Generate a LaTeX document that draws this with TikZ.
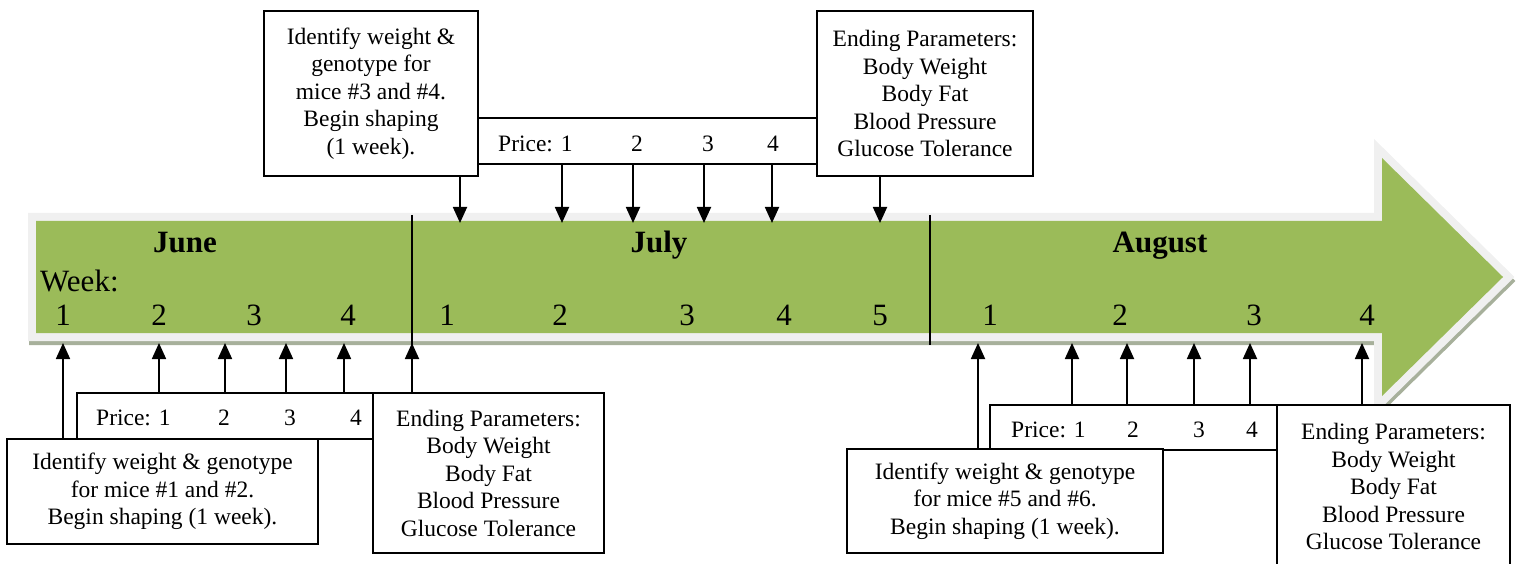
\documentclass[tikz,border=0pt]{standalone}
\usepackage{fontspec}
\setmainfont{Liberation Serif}
\usetikzlibrary{arrows.meta}
\definecolor{bandgreen}{HTML}{9BBB59}
\definecolor{bandedge}{HTML}{F0F0F0}
\definecolor{bandshadow}{HTML}{A7B09B}
\begin{document}
\begin{tikzpicture}[x=1pt,y=-1pt,
  box/.style={draw, line width=1.8pt, fill=white, inner sep=0pt, align=center, font=\fontsize{23.5}{27.5}\selectfont},
  txt/.style={inner sep=0pt, font=\fontsize{23.5}{27.5}\selectfont},
  big/.style={inner sep=0pt, font=\fontsize{31}{36}\selectfont},
  month/.style={inner sep=0pt, font=\fontsize{31}{36}\selectfont\bfseries},
  arr/.style={line width=1.8pt, -{Triangle[width=14pt,length=16pt]}},
  divider/.style={line width=1.6pt}]
\useasboundingbox (0,0) rectangle (1519,564);
\clip (0,0) rectangle (1519,564);
% band arrow
\path[draw=bandshadow, line width=16pt, line join=miter, shift={(1,4)}]
  (36,221) -- (1382,221) -- (1382,158) -- (1503,277) -- (1382,396) -- (1382,333) -- (36,333) -- cycle;
\path[draw=bandedge, line width=16pt, line join=miter]
  (36,221) -- (1382,221) -- (1382,158) -- (1503,277) -- (1382,396) -- (1382,333) -- (36,333) -- cycle;
\path[fill=bandgreen]
  (36,221) -- (1382,221) -- (1382,158) -- (1503,277) -- (1382,396) -- (1382,333) -- (36,333) -- cycle;
% dividers
\coordinate (dv1t) at (412,215); \coordinate (dv1b) at (412,345);
\coordinate (dv2t) at (930,215); \coordinate (dv2b) at (930,345);
\draw[divider] (dv1t) -- (dv1b);
\draw[divider] (dv2t) -- (dv2b);
% month labels
\node[month, anchor=base] (june) at (185,253) {June};
\node[month, anchor=base] (july) at (659,253) {July};
\node[month, anchor=base] (aug) at (1160,253) {August};
\node[big, anchor=base west] (week) at (40,291) {Week:};
% week numbers
\foreach \n/\x/\t in {j1/63/1, j2/159/2, j3/254/3, j4/348/4, l1/447/1, l2/560/2, l3/687/3, l4/784/4, l5/880/5, a1/990/1, a2/1120/2, a3/1254/3, a4/1367/4}
  \node[big, anchor=base] (\n) at (\x,326) {\t};
% top boxes
\node[box, minimum width=339pt, minimum height=46pt] (tprice) at (647.5,141) {};
\node[box, minimum width=214pt, minimum height=165pt] (tid) at (371,93.5)
  {Identify weight \&\\genotype for\\mice \#3 and \#4.\\Begin shaping\\(1 week).};
\node[box, minimum width=216pt, minimum height=165pt] (tend) at (925,93.5)
  {Ending Parameters:\\Body Weight\\Body Fat\\Blood Pressure\\Glucose Tolerance};
\node[txt, anchor=base west] (tp1) at (498,152) {Price: 1};
\node[txt, anchor=base] (tp2) at (637,152) {2};
\node[txt, anchor=base] (tp3) at (708,152) {3};
\node[txt, anchor=base] (tp4) at (773,152) {4};
% bottom left boxes
\node[box, minimum width=296pt, minimum height=46pt] (lprice) at (225,416) {};
\node[box, minimum width=311pt, minimum height=105pt] (lid) at (162.5,491.5)
  {Identify weight \& genotype\\for mice \#1 and \#2.\\Begin shaping (1 week).};
\node[box, minimum width=231pt, minimum height=160pt] (lend) at (488.5,473)
  {Ending Parameters:\\Body Weight\\Body Fat\\Blood Pressure\\Glucose Tolerance};
\node[txt, anchor=base west] (lp1) at (96,425) {Price: 1};
\node[txt, anchor=base] (lp2) at (224,425) {2};
\node[txt, anchor=base] (lp3) at (290,425) {3};
\node[txt, anchor=base] (lp4) at (356,425) {4};
% bottom right boxes
\node[box, minimum width=287pt, minimum height=45pt] (rprice) at (1133.5,427.5) {};
\node[box, minimum width=316pt, minimum height=104pt] (rid) at (1005,501)
  {Identify weight \& genotype\\for mice \#5 and \#6.\\Begin shaping (1 week).};
\node[box, minimum width=233pt, minimum height=163pt] (rend) at (1393.5,486.5)
  {Ending Parameters:\\Body Weight\\Body Fat\\Blood Pressure\\Glucose Tolerance};
\node[txt, anchor=base west] (rp1) at (1011,437) {Price: 1};
\node[txt, anchor=base] (rp2) at (1133,437) {2};
\node[txt, anchor=base] (rp3) at (1199,437) {3};
\node[txt, anchor=base] (rp4) at (1252,437) {4};
% arrow targets on the band
\foreach \n/\x in {d0/460, d1/562, d2/633, d3/704, d4/772, d5/880}
  \coordinate (\n) at (\x,223);
\foreach \n/\x in {u0/63, u1/159, u2/225, u3/286, u4/344, u5/412, v0/978, v1/1072, v2/1127, v3/1194, v4/1250, v5/1362}
  \coordinate (\n) at (\x,343);
% top arrows
\draw[arr] (d0 |- tid.south) -- (d0);
\foreach \n in {d1,d2,d3,d4} \draw[arr] (\n |- tprice.south) -- (\n);
\draw[arr] (d5 |- tend.south) -- (d5);
% bottom left arrows
\draw[arr] (u0 |- lid.north) -- (u0);
\foreach \n in {u1,u2,u3,u4} \draw[arr] (\n |- lprice.north) -- (\n);
\draw[arr] (u5 |- lend.north) -- (u5);
% bottom right arrows
\draw[arr] (v0 |- rid.north) -- (v0);
\foreach \n in {v1,v2,v3,v4} \draw[arr] (\n |- rprice.north) -- (\n);
\draw[arr] (v5 |- rend.north) -- (v5);
\end{tikzpicture}
\end{document}
